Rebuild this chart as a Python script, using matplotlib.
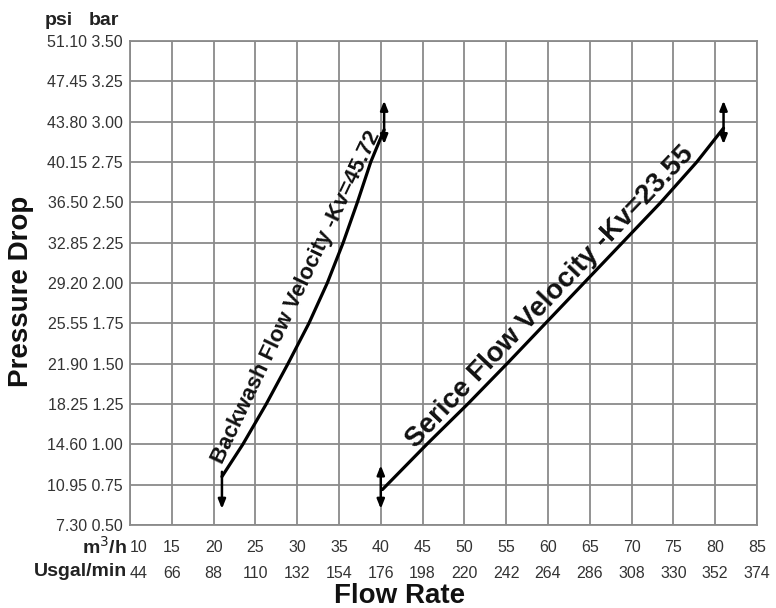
import numpy as np
import matplotlib
matplotlib.use("Agg")
import matplotlib.pyplot as plt

plt.rcParams['font.family'] = ['Liberation Sans', 'DejaVu Sans']

# axis ticks
flow_m3h = [10, 15, 20, 25, 30, 35, 40, 45, 50, 55, 60, 65, 70, 75, 80, 85]
flow_usgal = [44, 66, 88, 110, 132, 154, 176, 198, 220, 242, 264, 286, 308, 330, 352, 374]
bar_ticks = [0.50, 0.75, 1.00, 1.25, 1.50, 1.75, 2.00, 2.25, 2.50, 2.75, 3.00, 3.25, 3.50]
psi_ticks = ["7.30", "10.95", "14.60", "18.25", "21.90", "25.55", "29.20",
             "32.85", "36.50", "40.15", "43.80", "47.45", "51.10"]

# curves (m3/h, bar)
backwash_q = [21.0, 23.5, 26.3, 28.9, 31.4, 33.6, 35.5, 37.2, 38.8, 40.4]
backwash_dp = [0.80, 1.00, 1.25, 1.50, 1.75, 2.00, 2.25, 2.50, 2.75, 2.95]
service_q = [40.2, 45.5, 50.4, 55.1, 59.7, 64.3, 68.9, 73.5, 77.8, 81.0]
service_dp = [0.72, 1.00, 1.25, 1.50, 1.75, 2.00, 2.25, 2.50, 2.75, 2.96]

# range arrows: (x, y_from, y_to, style)
arrows = [
    (21.0, 0.83, 0.60, '-|>'),
    (40.4, 2.86, 3.13, '<|-|>'),
    (40.0, 0.60, 0.87, '<|-|>'),
    (81.0, 2.86, 3.13, '<|-|>'),
]

fig = plt.figure(figsize=(7.76, 6.08), dpi=100)
ax = fig.add_axes([0.1675, 0.1365, 0.808, 0.7961])
ax.set_xlim(10, 85)
ax.set_ylim(0.5, 3.5)

ax.set_xticks(flow_m3h)
ax.set_yticks(bar_ticks)
ax.grid(True, color='#8a8a8a', linewidth=1.3)
ax.set_axisbelow(True)
for s in ax.spines.values():
    s.set_color('#8a8a8a')
    s.set_linewidth(1.3)
ax.tick_params(length=0, labelsize=11.5, labelcolor='#333333')
ax.tick_params(axis='y', pad=5)
ax.tick_params(axis='x', pad=11)

ax.set_yticklabels([f"{p} {b:.2f}" for p, b in zip(psi_ticks, bar_ticks)])
xl = ax.set_xticklabels([f"{a}\n{b}" for a, b in zip(flow_m3h, flow_usgal)],
                        linespacing=1.9)
xl[0].set_horizontalalignment('left')

ax.plot(backwash_q, backwash_dp, color='black', lw=2.3, solid_capstyle='round')
ax.plot(service_q, service_dp, color='black', lw=2.3, solid_capstyle='round')

for x, y0, y1, st in arrows:
    ax.annotate('', xy=(x, y1), xytext=(x, y0),
                arrowprops=dict(arrowstyle=st + ',head_length=0.55,head_width=0.22',
                                color='black', lw=1.8, shrinkA=0, shrinkB=0))

ax.text(29.85, 1.91, "Backwash Flow Velocity -Kv=45.72", rotation=64.5,
        rotation_mode='anchor', ha='center', va='center', fontsize=16,
        fontweight='bold', color='#111111')
ax.text(60.2, 1.91, "Serice Flow Velocity -Kv=23.55", rotation=46.5,
        rotation_mode='anchor', ha='center', va='center', fontsize=20,
        fontweight='bold', color='#111111')

# column headers and units
fig.text(59 / 776, 1 - 25 / 608, "psi", ha='center', va='baseline',
         fontsize=14, fontweight='bold', color='#222222')
fig.text(104 / 776, 1 - 25 / 608, "bar", ha='center', va='baseline',
         fontsize=14, fontweight='bold', color='#222222')
fig.text(127 / 776, 1 - 547 / 608, "m$^3$/h", ha='right', va='center',
         fontsize=14, fontweight='bold', color='#222222')
fig.text(127 / 776, 1 - 572 / 608, "Usgal/min", ha='right', va='center',
         fontsize=14, fontweight='bold', color='#222222')

fig.text(400 / 776, 1 - 596 / 608, "Flow Rate", ha='center', va='center',
         fontsize=20, fontweight='bold', color='#111111')
fig.text(21 / 776, 1 - 291 / 608, "Pressure Drop", ha='center', va='center',
         rotation=90, fontsize=20, fontweight='bold', color='#111111')

fig.savefig("out.png", dpi=100)
